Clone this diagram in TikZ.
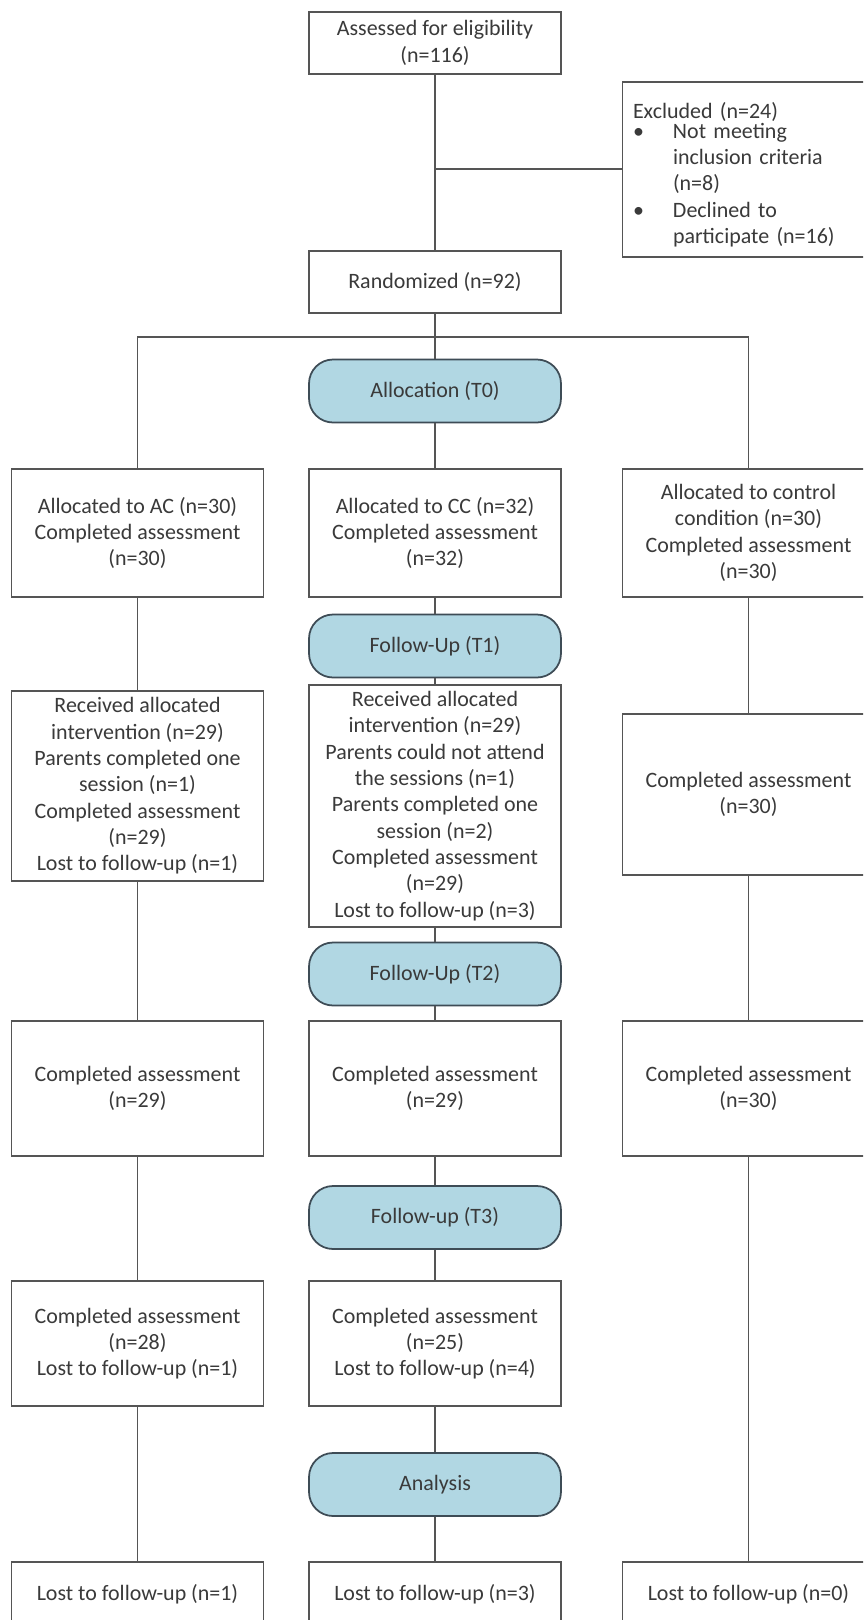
\documentclass[tikz,border=0pt]{standalone}
\usepackage{fontspec}
\setmainfont{Carlito}
\usepackage{xcolor}
\usetikzlibrary{positioning}
\definecolor{pillblue}{RGB}{177,215,227}
\definecolor{pillline}{RGB}{62,76,86}
\definecolor{boxline}{RGB}{85,85,85}
\definecolor{textgray}{RGB}{58,58,58}

\begin{document}
\begin{tikzpicture}[x=0.02cm, y=-0.02cm, line width=1pt,
  every node/.style={font=\fontsize{12.5}{15}\selectfont, text=textgray},
  box/.style={draw=boxline, fill=white, minimum width=5.04cm, inner sep=0pt, align=center},
  phase/.style={draw=pillline, fill=pillblue, rounded corners=0.48cm, minimum width=5.04cm, minimum height=1.26cm},
  link/.style={draw=boxline}]
  \useasboundingbox (0,0) rectangle (863,1620);
  \clip (0,0) rectangle (863,1620);
  \fill[white] (0,0) rectangle (863,1620);

  % enrolment
  \node[box, minimum height=1.24cm] (assess) at (435,43) {Assessed for eligibility\\(n=116)};
  \node[box, minimum height=3.26cm, text width=4.62cm, inner sep=0.2cm, align=left] (excl) at (748.5,169.5)
    {\rule{0pt}{0.54cm}Excluded (n=24)\\[-0.14cm]
     \makebox[0.8cm][l]{\textbullet}Not meeting\\
     \hspace*{0.8cm}inclusion criteria\\
     \hspace*{0.8cm}(n=8)\\
     \makebox[0.8cm][l]{\textbullet}Declined to\\
     \hspace*{0.8cm}participate (n=16)};
  \node[box, minimum height=1.24cm] (rand) at (435,282) {Randomized (n=92)};
  \node[phase] (alloc) at (435,391) {Allocation (T0)};

  % T0
  \node[box, minimum height=2.56cm] (ac1) at (137.5,533) {Allocated to AC (n=30)\\Completed assessment\\(n=30)};
  \node[box, minimum height=2.56cm] (cc1) at (435,533) {Allocated to CC (n=32)\\Completed assessment\\(n=32)};
  \node[box, minimum height=2.56cm] (cn1) at (748.5,533) {Allocated to control\\condition (n=30)\\Completed assessment\\(n=30)};
  \node[phase] (fu1) at (435,646) {Follow-Up (T1)};

  % T1
  \node[box, minimum height=3.8cm] (ac2) at (137.5,786) {Received allocated\\intervention (n=29)\\Parents completed one\\session (n=1)\\Completed assessment\\(n=29)\\Lost to follow-up (n=1)};
  \node[box, minimum height=4.84cm] (cc2) at (435,806) {Received allocated\\intervention (n=29)\\Parents could not attend\\the sessions (n=1)\\Parents completed one\\session (n=2)\\Completed assessment\\(n=29)\\Lost to follow-up (n=3)};
  \node[box, minimum height=3.22cm] (cn2) at (748.5,794.5) {Completed assessment\\(n=30)};
  \node[phase] (fu2) at (435,974) {Follow-Up (T2)};

  % T2
  \node[box, minimum height=2.7cm] (ac3) at (137.5,1088.5) {Completed assessment\\(n=29)};
  \node[box, minimum height=2.7cm] (cc3) at (435,1088.5) {Completed assessment\\(n=29)};
  \node[box, minimum height=2.7cm] (cn3) at (748.5,1088.5) {Completed assessment\\(n=30)};
  \node[phase] (fu3) at (435,1217.5) {Follow-up (T3)};

  % T3
  \node[box, minimum height=2.5cm] (ac4) at (137.5,1343.5) {Completed assessment\\(n=28)\\Lost to follow-up (n=1)};
  \node[box, minimum height=2.5cm] (cc4) at (435,1343.5) {Completed assessment\\(n=25)\\Lost to follow-up (n=4)};
  \node[phase] (ana) at (435,1484.5) {Analysis};

  % analysis
  \node[box, minimum height=1.28cm] (ac5) at (137.5,1594) {Lost to follow-up (n=1)};
  \node[box, minimum height=1.28cm] (cc5) at (435,1594) {Lost to follow-up (n=3)};
  \node[box, minimum height=1.28cm] (cn5) at (748.5,1594) {Lost to follow-up (n=0)};

  \coordinate (split) at (435,169);
  \coordinate (bus) at (435,337);
  \draw[link] (assess) -- (rand);
  \draw[link] (split) -- (excl.west |- split);
  \draw[link] (rand) -- (alloc);
  \draw[link] (ac1.north) |- (bus) -| (cn1.north);
  \draw[link] (alloc) -- (cc1) -- (fu1) -- (cc2) -- (fu2) -- (cc3) -- (fu3) -- (cc4) -- (ana) -- (cc5);
  \draw[link] (ac1) -- (ac2) -- (ac3) -- (ac4) -- (ac5);
  \draw[link] (cn1) -- (cn2) -- (cn3) -- (cn5);
\end{tikzpicture}
\end{document}
